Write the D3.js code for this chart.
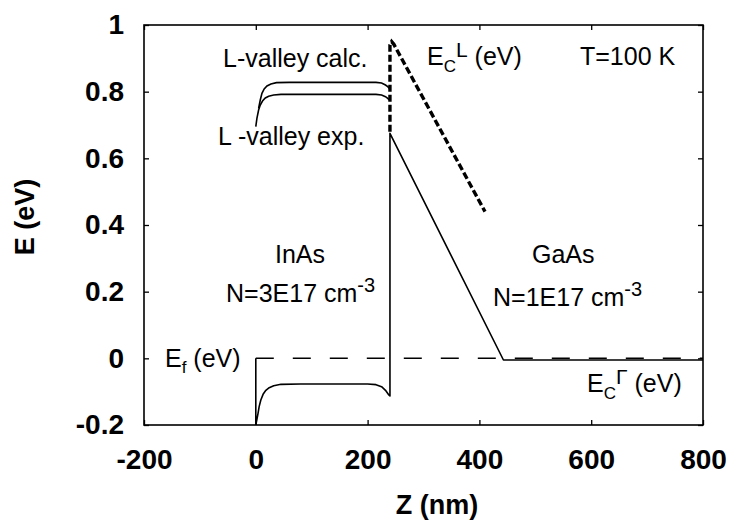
<!DOCTYPE html>
<html>
<head>
<meta charset="utf-8">
<script src="https://cdn.jsdelivr.net/npm/d3@7"></script>
<style>
  html, body { margin: 0; padding: 0; background: #fff; }
  svg { display: block; }
  .tick text { font-family: "Liberation Sans", Arial, sans-serif; font-weight: bold; font-size: 28px; fill: #000; }
  .note { font-family: "Liberation Sans", Arial, sans-serif; font-size: 25px; fill: #000; }
  .title { font-family: "Liberation Sans", Arial, sans-serif; font-weight: bold; font-size: 27px; fill: #000; }
</style>
</head>
<body>
<svg id="chart" width="731" height="522"></svg>
<script>
// Band-edge profile of an InAs / GaAs structure at T = 100 K
const xTicks = [-200, 0, 200, 400, 600, 800];
const xTickLabels = ["-200", "0", "200", "400", "600", "800"];
const yTicks = [-0.2, 0, 0.2, 0.4, 0.6, 0.8, 1];
const yTickLabels = ["-0.2", "0", "0.2", "0.4", "0.6", "0.8", "1"];

// Gamma-valley conduction band edge E_C^Γ (Z in nm, E in eV)
const ecGamma = [
  [0, 0], [0, -0.2], [2, -0.183], [4, -0.165], [6, -0.145], [9, -0.125],
  [13, -0.108], [18, -0.096], [24, -0.088], [32, -0.082], [45, -0.078],
  [80, -0.077], [200, -0.077], [215, -0.079], [225, -0.085], [232, -0.096],
  [238, -0.11], [240, -0.113], [240, 0.675], [443, -0.005], [800, -0.005]
];

// L-valley edge in InAs, calculated
const lCalc = [
  [5, 0.75], [8, 0.775], [11, 0.795], [15, 0.808], [20, 0.817], [27, 0.823],
  [37, 0.827], [60, 0.828], [215, 0.828], [225, 0.826], [232, 0.82],
  [236, 0.815], [239, 0.81]
];

// L-valley edge in InAs, experimental
const lExp = [
  [0, 0.695], [2, 0.72], [5, 0.745], [8, 0.76], [12, 0.772], [17, 0.781],
  [23, 0.786], [32, 0.79], [45, 0.792], [215, 0.792], [225, 0.79],
  [232, 0.785], [236, 0.78], [239, 0.775]
];

// L-valley conduction band edge E_C^L in GaAs
const ecL = [[240, 0.68], [240, 0.94], [243, 0.95], [247, 0.942], [410, 0.44]];

// Fermi level
const fermi = [[0, 0], [800, 0]];

const svg = d3.select("#chart");
const mLeft = 144, mRight = 703, mTop = 25, mBottom = 425;

const x = d3.scaleLinear().domain([-200, 800]).range([mLeft, mRight]);
const y = d3.scaleLinear().domain([-0.2, 1]).range([mBottom, mTop]);

const line = d3.line().x(d => x(d[0])).y(d => y(d[1]));

// clip to the plot frame
svg.append("defs").append("clipPath").attr("id", "plot")
  .append("rect").attr("x", mLeft).attr("y", mTop)
  .attr("width", mRight - mLeft).attr("height", mBottom - mTop);

const plot = svg.append("g").attr("clip-path", "url(#plot)");

plot.append("path").datum(fermi).attr("d", line)
  .attr("fill", "none").attr("stroke", "#000").attr("stroke-width", 1.5)
  .attr("stroke-dasharray", "18,19");

plot.append("path").datum(ecGamma).attr("d", line)
  .attr("fill", "none").attr("stroke", "#000").attr("stroke-width", 1.6)
  .attr("stroke-linejoin", "round");

plot.append("path").datum(lCalc).attr("d", line)
  .attr("fill", "none").attr("stroke", "#000").attr("stroke-width", 1.6);

plot.append("path").datum(lExp).attr("d", line)
  .attr("fill", "none").attr("stroke", "#000").attr("stroke-width", 1.6);

plot.append("path").datum(ecL).attr("d", line)
  .attr("fill", "none").attr("stroke", "#000").attr("stroke-width", 3.4)
  .attr("stroke-dasharray", "7,3");

// axes with inward ticks on all four sides
const fmtY = d => yTickLabels[yTicks.indexOf(d)];
const fmtX = d => xTickLabels[xTicks.indexOf(d)];
svg.append("g").attr("transform", `translate(${mLeft},0)`)
  .call(d3.axisLeft(y).tickValues(yTicks).tickFormat(fmtY).tickSizeInner(-5).tickSizeOuter(0).tickPadding(20));
svg.append("g").attr("transform", `translate(${mRight},0)`)
  .call(d3.axisRight(y).tickValues(yTicks).tickFormat("").tickSizeInner(-5).tickSizeOuter(0));
svg.append("g").attr("transform", `translate(0,${mBottom})`)
  .call(d3.axisBottom(x).tickValues(xTicks).tickFormat(fmtX).tickSizeInner(-5).tickSizeOuter(0).tickPadding(24));
svg.append("g").attr("transform", `translate(0,${mTop})`)
  .call(d3.axisTop(x).tickValues(xTicks).tickFormat("").tickSizeInner(-5).tickSizeOuter(0));

svg.selectAll(".domain").remove();
svg.selectAll(".tick line").attr("stroke", "#000").attr("stroke-width", 1.3);

svg.append("rect").attr("x", mLeft).attr("y", mTop)
  .attr("width", mRight - mLeft).attr("height", mBottom - mTop)
  .attr("fill", "none").attr("stroke", "#000").attr("stroke-width", 1.6);

// axis titles
svg.append("text").attr("class", "title")
  .attr("transform", "translate(34,217) rotate(-90)")
  .attr("text-anchor", "middle").text("E (eV)");
svg.append("text").attr("class", "title")
  .attr("x", 437).attr("y", 514).attr("text-anchor", "middle").text("Z (nm)");

// annotations
function note(px, py, parts, anchor) {
  const t = svg.append("text").attr("class", "note")
    .attr("x", px).attr("y", py).attr("text-anchor", anchor || "start");
  parts.forEach(p => {
    const s = t.append("tspan").text(p.t);
    if (p.dy) s.attr("dy", p.dy);
    if (p.size) s.attr("font-size", p.size);
  });
  return t;
}

note(223, 67, [{t: "L-valley calc."}]);
note(218, 145, [{t: "L -valley exp."}]);
note(427, 65, [{t: "E"}, {t: "C", dy: 7, size: 17}, {t: "L", dy: -15, size: 21}, {t: " (eV)", dy: 8}]);
note(580, 65, [{t: "T=100 K"}]);
note(300, 263, [{t: "InAs"}], "middle");
note(226, 302, [{t: "N=3E17 cm"}, {t: "-3", dy: -10, size: 20}]);
note(532, 263, [{t: "GaAs"}]);
note(493, 306, [{t: "N=1E17 cm"}, {t: "-3", dy: -10, size: 20}]);
note(165, 367, [{t: "E"}, {t: "f", dy: 6, size: 17}, {t: " (eV)", dy: -6}]);
note(587, 392, [{t: "E"}, {t: "C", dy: 7, size: 17}, {t: "Γ", dy: -15, size: 21}, {t: " (eV)", dy: 8}]);
</script>
</body>
</html>
